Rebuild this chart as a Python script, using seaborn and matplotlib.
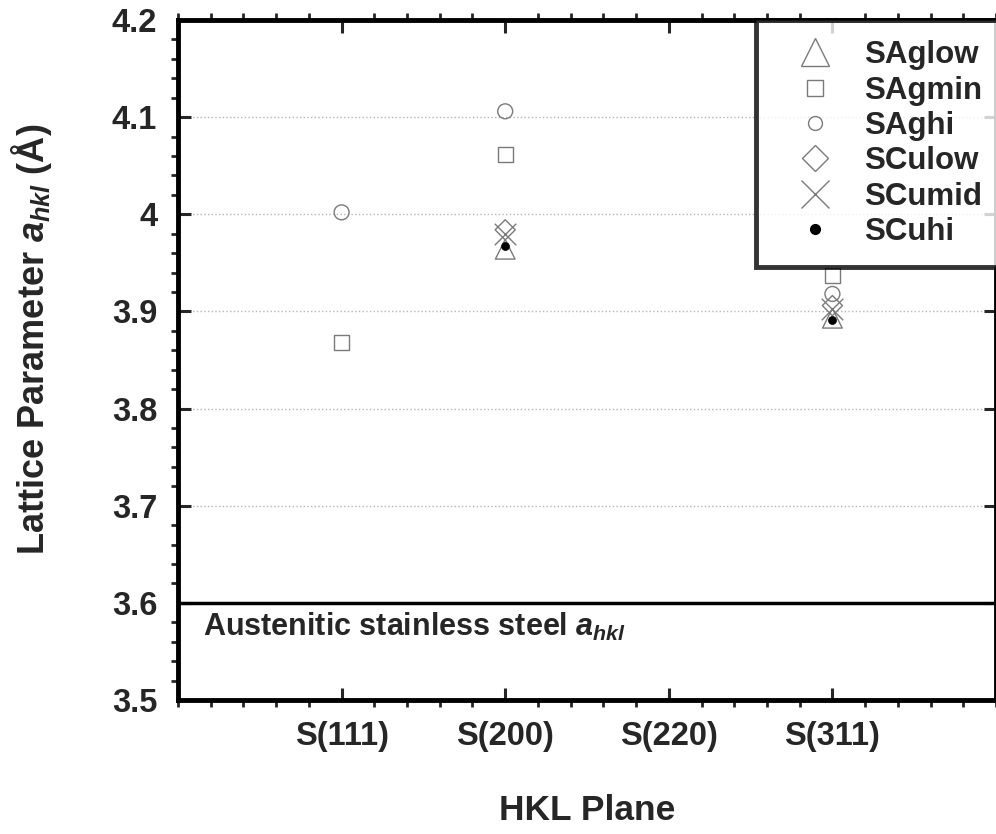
import numpy as np
import pandas as pd
import seaborn as sns
import matplotlib.pyplot as plt
from matplotlib.lines import Line2D
from matplotlib.ticker import AutoMinorLocator

# lattice parameter per plane (nan = no point)
planes = ['S(111)', 'S(200)', 'S(220)', 'S(311)']
series = ['SAglow', 'SAgmin', 'SAghi', 'SCulow', 'SCumid', 'SCuhi']
sa_glow = [np.nan, 3.964, np.nan, 3.893]
sa_gmin = [3.868, 4.062, np.nan, 3.937]
sa_ghi = [4.002, 4.106, np.nan, 3.918]
scu_low = [np.nan, 3.984, np.nan, 3.906]
scu_mid = [np.nan, 3.980, np.nan, 3.903]
scu_hi = [np.nan, 3.967, np.nan, 3.891]
steel_ref = 3.6
y_ticks = [3.5, 3.6, 3.7, 3.8, 3.9, 4.0, 4.1, 4.2]
y_ticklabels = ['3.5', '3.6', '3.7', '3.8', '3.9', '4', '4.1', '4.2']

values = [sa_glow, sa_gmin, sa_ghi, scu_low, scu_mid, scu_hi]
rows = []
for name, vals in zip(series, values):
    for i, p in enumerate(planes):
        rows.append({'series': name, 'plane': p, 'pos': i + 1, 'a': vals[i]})
df = pd.DataFrame(rows).dropna()

sns.set_style('white')
plt.rcParams['font.family'] = ['Liberation Sans', 'DejaVu Sans']
plt.rcParams['font.weight'] = 'bold'
plt.rcParams['axes.labelweight'] = 'bold'
plt.rcParams['mathtext.fontset'] = 'custom'
plt.rcParams['mathtext.rm'] = 'Liberation Sans:bold'
plt.rcParams['mathtext.it'] = 'Liberation Sans:bold:italic'
plt.rcParams['mathtext.bf'] = 'Liberation Sans:bold'

grey = '#7a7a7a'
# marker, size (pt^2), hollow?
styles = {
    'SAglow': ('^', 200, True),
    'SAgmin': ('s', 115, True),
    'SAghi': ('o', 115, True),
    'SCulow': ('D', 105, True),
    'SCumid': ('x', 240, False),
    'SCuhi': ('o', 33, False),
}

fig = plt.figure(figsize=(9.96, 8.34), dpi=100)
ax = fig.add_axes([178 / 996, 134 / 834, 818 / 996, 680 / 834])

for name in series:
    sub = df[df['series'] == name]
    m, s, hollow = styles[name]
    if hollow:
        sns.scatterplot(data=sub, x='pos', y='a', marker=m, s=s, ax=ax,
                        facecolor='none', edgecolor=grey, linewidth=1, zorder=3)
    elif m == 'x':
        sns.scatterplot(data=sub, x='pos', y='a', marker=m, s=s, ax=ax,
                        color=grey, linewidth=1, zorder=3)
    else:
        sns.scatterplot(data=sub, x='pos', y='a', marker=m, s=s, ax=ax,
                        color='black', edgecolor='black', linewidth=0.5, zorder=4)

ax.axhline(steel_ref, color='black', lw=2.5, zorder=2)
ax.text(0.03, 3.575, r'Austenitic stainless steel $a_{hkl}$', fontsize=22,
        fontweight='bold', va='center', ha='left', transform=ax.get_yaxis_transform())

ax.set_xlim(0, 5)
ax.set_ylim(3.5, 4.2)
ax.set_xticks(range(1, len(planes) + 1))
ax.set_xticklabels(planes)
ax.set_yticks(y_ticks)
ax.set_yticklabels(y_ticklabels)
ax.xaxis.set_minor_locator(AutoMinorLocator(5))
ax.yaxis.set_minor_locator(AutoMinorLocator(5))
ax.tick_params(which='major', direction='in', length=9, width=2.2,
               bottom=True, left=True, top=True, right=True, labelsize=23.5, pad=15)
ax.tick_params(which='minor', direction='out', length=5, width=2,
               bottom=True, left=True, top=True, right=True)
ax.yaxis.grid(True, which='major', linestyle=':', color='#b5b5b5', lw=1)
ax.set_axisbelow(True)
for sp in ax.spines.values():
    sp.set_linewidth(3.5)
    sp.set_color('black')

ax.set_xlabel('HKL Plane', fontsize=25.5, labelpad=30)
ax.set_ylabel(r'Lattice Parameter $a_{hkl}$ (Å)', fontsize=26)
ax.yaxis.set_label_coords(-0.152, 0.53)

# legend with bigger handle symbols than in the plot
handle_specs = {
    'SAglow': ('^', 20, 'none', grey),
    'SAgmin': ('s', 11.5, 'none', grey),
    'SAghi': ('o', 10, 'none', grey),
    'SCulow': ('D', 13.5, 'none', grey),
    'SCumid': ('x', 20, grey, grey),
    'SCuhi': ('o', 7, 'black', 'black'),
}
handles = []
for name in series:
    m, ms, fc, ec = handle_specs[name]
    handles.append(Line2D([], [], ls='none', marker=m, markersize=ms,
                          markerfacecolor=fc, markeredgecolor=ec, markeredgewidth=1))
leg = ax.legend(handles, series, loc='upper right', bbox_to_anchor=(1.008, 1.0),
                fontsize=22.5, frameon=True, fancybox=False, borderaxespad=0,
                borderpad=0.65, handlelength=2.45, handletextpad=0.35,
                labelspacing=0.17)
leg.get_frame().set_edgecolor('black')
leg.get_frame().set_linewidth(3.5)
for t in leg.get_texts():
    t.set_fontweight('bold')

fig.savefig('out.png', dpi=100)
